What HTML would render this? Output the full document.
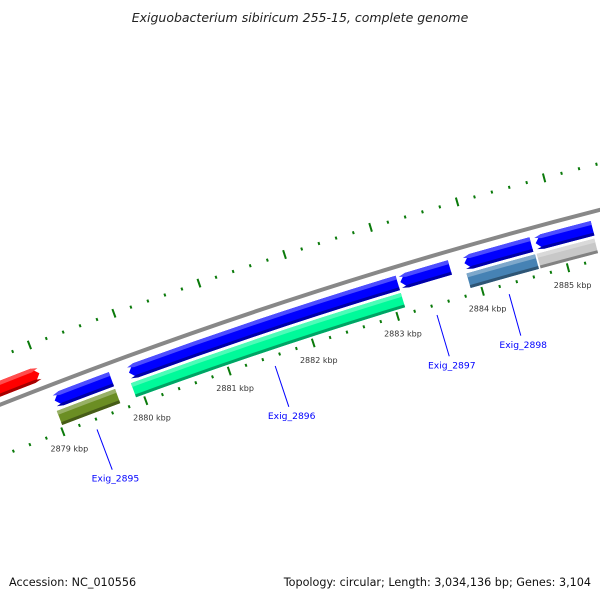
<!DOCTYPE html>
<html><head><meta charset="utf-8"><style>
html,body{margin:0;padding:0;background:#fff;}
svg{display:block;font-family:"DejaVu Sans","Liberation Sans",sans-serif;}
</style></head><body>
<svg id="map" width="600" height="600" viewBox="0 0 600 600" xmlns="http://www.w3.org/2000/svg">
<rect width="600" height="600" fill="#fff"/>
<text x="300" y="22" text-anchor="middle" font-size="12.5" font-style="italic" fill="#222">Exiguobacterium sibiricum 255-15, complete genome</text>
<g id="ticks"></g>
<g id="feats"></g>
<g id="labels"></g>
<text x="9" y="586" font-size="11.2" fill="#111">Accession: NC_010556</text>
<text x="591" y="586" text-anchor="end" font-size="11.2" fill="#111">Topology: circular; Length: 3,034,136 bp; Genes: 3,104</text>
</svg>
<script>
// ---- data (kbp) ----
const featStarts = [2878.2, 2879.04, 2879.02, 2879.93, 2879.91, 2883.14, 2883.89, 2883.88, 2884.72, 2884.70];
const featEnds   = [2878.99, 2879.72, 2879.72, 2883.11, 2883.11, 2883.72, 2884.67, 2884.68, 2885.38, 2885.37];
const featStrand = [1, -1, 0, -1, 0, -1, -1, 0, -1, 0];
const featColors = ["#ff0000", "#0000ff", "#6b8e23", "#0000ff", "#00fa9a", "#0000ff", "#0000ff", "#4682b4", "#0000ff", "#c8c8c8"];
const geneNames  = ["Exig_2895", "Exig_2896", "Exig_2897", "Exig_2898"];
const geneMids   = [2879.37, 2881.51, 2883.43, 2884.28];
const tickLabels = [2879, 2880, 2881, 2882, 2883, 2884, 2885];

// ---- geometry ----
const CX = 1838.3, CY = 5040.6, R = 4987;
const TH0 = -0.3677, DTH = 0.01793; // angle at 2879 kbp, rad per kbp
const NS = "http://www.w3.org/2000/svg";
function ang(k){ return TH0 + (k - 2879) * DTH; }
function pt(k, r){ const a = ang(k); return [CX + r*Math.sin(a), CY - r*Math.cos(a)]; }
function f(p){ return p[0].toFixed(2)+","+p[1].toFixed(2); }
function arcPath(k1, k2, r){ // from k1 to k2 along radius r
  const p = pt(k2, r); const sweep = k2 > k1 ? 1 : 0;
  return "A"+r+","+r+" 0 0 "+sweep+" "+f(p);
}
function mk(tag, parent, attrs){ const e = document.createElementNS(NS, tag); for (const k in attrs) e.setAttribute(k, attrs[k]); parent.appendChild(e); return e; }

const svg = document.getElementById("map");
const tg = document.getElementById("ticks"), fg = document.getElementById("feats"), lg = document.getElementById("labels");

// backbone
const bb = mk("path", fg, {d: "M"+f(pt(2877.5, R))+arcPath(2877.5, 2886.5, R), fill:"none", stroke:"#888", "stroke-width":"4"});



// ticks: two rings
[R - 48, R + 45].forEach((rr, ri) => {
  for (let i = 0; i <= 60; i++) {
    const k = 2877 + i * 0.2;
    const major = (i % 5 === 0);
    const len = major ? 4.5 : 1.5;
    const t = mk("line", tg, {});
    const a = pt(k, rr - len), b = pt(k, rr + len);
    t.setAttribute("x1", a[0]); t.setAttribute("y1", a[1]); t.setAttribute("x2", b[0]); t.setAttribute("y2", b[1]);
    t.setAttribute("stroke", "#0a7a0a"); t.setAttribute("stroke-width", "2");
    
    
  }
});
tickLabels.forEach(k => {
  const p = pt(k, R - 66);
  const t = mk("text", lg, {x: p[0], y: p[1] + 3, "text-anchor":"middle", "font-size":"8", fill:"#333"});
  t.textContent = k + " kbp";
  
  
});

// features
function shadeColor(hex, amt){
  const n = parseInt(hex.slice(1), 16);
  let r = n >> 16, g = (n >> 8) & 255, b = n & 255;
  if (amt > 0){ r += (255-r)*amt; g += (255-g)*amt; b += (255-b)*amt; }
  else { r *= (1+amt); g *= (1+amt); b *= (1+amt); }
  return "rgb("+Math.round(r)+","+Math.round(g)+","+Math.round(b)+")";
}
function bandPath(k1, k2, rIn, rOut, strand){
  const head = 0.075, rm = (rIn + rOut)/2;
  if (strand === -1){
    return "M"+f(pt(k1, rm))+"L"+f(pt(k1+head, rOut))+arcPath(k1+head, k2, rOut)+"L"+f(pt(k2, rIn))+arcPath(k2, k1+head, rIn)+"Z";
  } else if (strand === 1){
    return "M"+f(pt(k1, rOut))+arcPath(k1, k2-head, rOut)+"L"+f(pt(k2, rm))+"L"+f(pt(k2-head, rIn))+arcPath(k2-head, k1, rIn)+"Z";
  }
  return "M"+f(pt(k1, rOut))+arcPath(k1, k2, rOut)+"L"+f(pt(k2, rIn))+arcPath(k2, k1, rIn)+"Z";
}
for (let i = 0; i < featStarts.length; i++) {
  const s = featStrand[i];
  const rc = s === 1 ? R + 15 : (s === -1 ? R - 16 : R - 34);
  const rIn = rc - 7.5, rOut = rc + 7.5;
  const g = mk("g", fg, {});
  
  
  mk("path", g, {d: bandPath(featStarts[i], featEnds[i], rIn, rOut, s), fill: featColors[i]});
  // light top strip
  mk("path", g, {d: bandPath(featStarts[i], featEnds[i], rOut - 4, rOut, s), fill: shadeColor(featColors[i], 0.3)});
  // dark bottom strip
  mk("path", g, {d: bandPath(featStarts[i], featEnds[i], rIn, rIn + 3, s), fill: shadeColor(featColors[i], -0.35)});
}

// gene labels
geneNames.forEach((n, i) => {
  const a = pt(geneMids[i], R - 58), b = pt(geneMids[i], R - 101), c = pt(geneMids[i], R - 110);
  const l = mk("line", lg, {x1: a[0], y1: a[1], x2: b[0], y2: b[1], stroke:"#0000ff", "stroke-width":"1"});
  
  
  const t = mk("text", lg, {x: c[0], y: c[1] + 3.5, "text-anchor":"middle", "font-size":"9.2", fill:"#0000ff"});
  t.textContent = n;
  
  
});
</script>
</body></html>
